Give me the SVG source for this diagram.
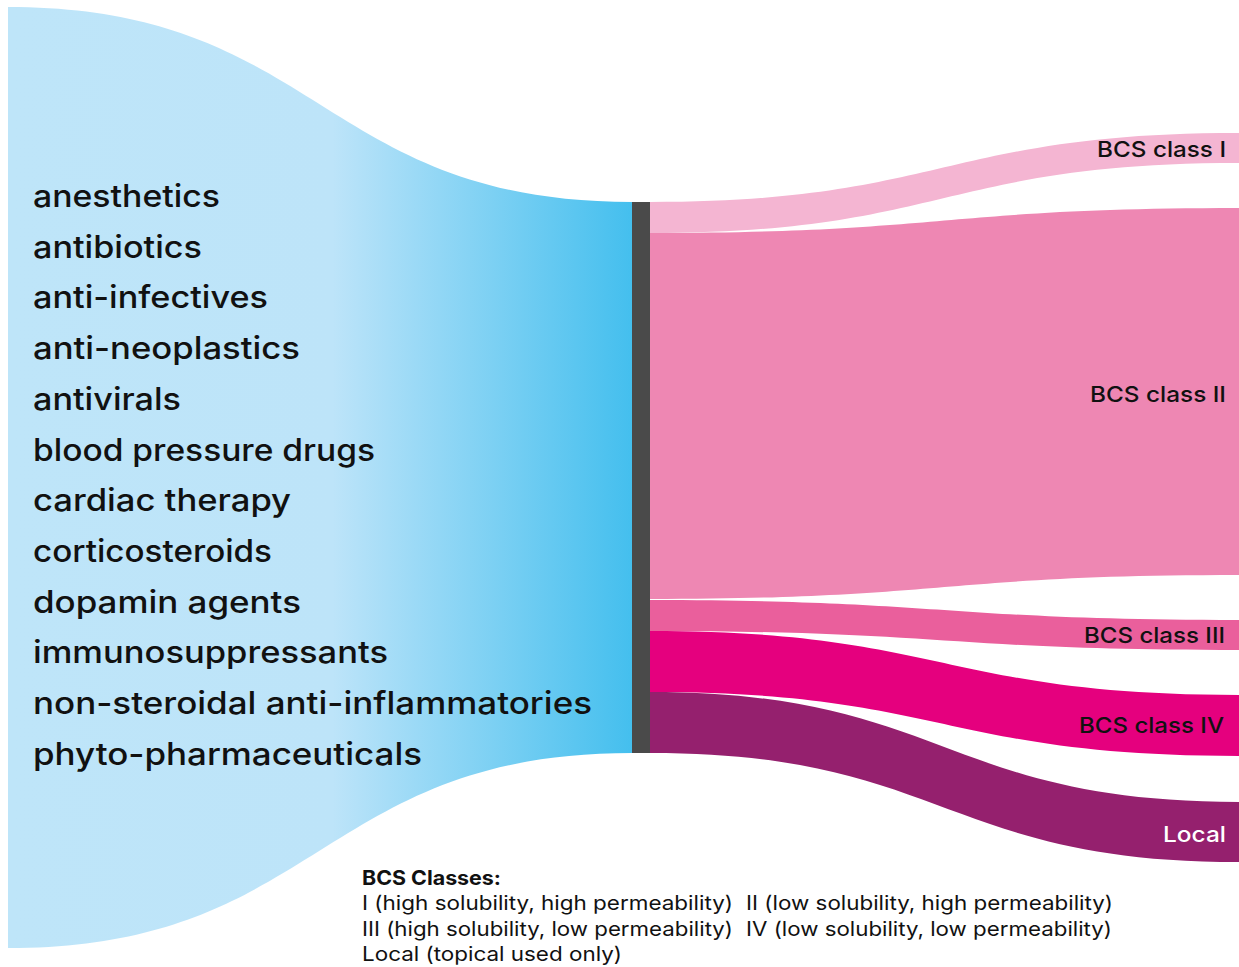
<svg xmlns="http://www.w3.org/2000/svg" width="1239" height="967" viewBox="0 0 1239 967">
<defs>
<linearGradient id="blueGrad" gradientUnits="userSpaceOnUse" x1="8" y1="0" x2="632" y2="0">
<stop offset="0" stop-color="#BEE5F9"/>
<stop offset="0.52" stop-color="#BDE4F9"/>
<stop offset="1" stop-color="#44BFEE"/>
</linearGradient>
<style>
.lbl{font-family:Inter,"Noto Sans","Liberation Sans",sans-serif;font-size:31px;font-weight:500;fill:#111;}
.rl{font-family:Inter,"Noto Sans","Liberation Sans",sans-serif;font-size:22px;font-weight:500;fill:#111;text-anchor:end;}
.lg{font-family:Inter,"Noto Sans","Liberation Sans",sans-serif;font-size:20px;fill:#111;}
.lgb{font-family:Inter,"Noto Sans","Liberation Sans",sans-serif;font-size:20px;font-weight:bold;fill:#111;}
</style>
</defs>
<rect width="1239" height="967" fill="#fff"/>
<g id="connectors">
<path d="M650,202 C944,202 944,133 1239,133 L1239,163 C944,163 944,233 650,233 Z" fill="#F4B5D2"/>
<path d="M650,233 C944,233 944,208 1239,208 L1239,575 C944,575 944,599 650,599 Z" fill="#EE87B3"/>
<path d="M650,600 C944,600 944,620 1239,620 L1239,650 C944,650 944,631 650,631 Z" fill="#EA5F9C"/>
<path d="M650,631 C944,631 944,695 1239,695 L1239,756 C944,756 944,692 650,692 Z" fill="#E5007E"/>
<path d="M650,692 C944,692 944,802 1239,802 L1239,862 C944,862 944,753 650,753 Z" fill="#95206E"/>
</g>
<g id="sources">
<path d="M8,7 C320,7 320,202 632,202 L632,753 C320,753 320,948 8,948 Z" fill="url(#blueGrad)"/>
<text class="lbl" x="33" y="207" textLength="187" lengthAdjust="spacingAndGlyphs">anesthetics</text>
<text class="lbl" x="33" y="258" textLength="169" lengthAdjust="spacingAndGlyphs">antibiotics</text>
<text class="lbl" x="33" y="308" textLength="235" lengthAdjust="spacingAndGlyphs">anti-infectives</text>
<text class="lbl" x="33" y="359" textLength="267" lengthAdjust="spacingAndGlyphs">anti-neoplastics</text>
<text class="lbl" x="33" y="410" textLength="148" lengthAdjust="spacingAndGlyphs">antivirals</text>
<text class="lbl" x="33" y="461" textLength="342" lengthAdjust="spacingAndGlyphs">blood pressure drugs</text>
<text class="lbl" x="33" y="511" textLength="258" lengthAdjust="spacingAndGlyphs">cardiac therapy</text>
<text class="lbl" x="33" y="562" textLength="239" lengthAdjust="spacingAndGlyphs">corticosteroids</text>
<text class="lbl" x="33" y="613" textLength="268" lengthAdjust="spacingAndGlyphs">dopamin agents</text>
<text class="lbl" x="33" y="663" textLength="355" lengthAdjust="spacingAndGlyphs">immunosuppressants</text>
<text class="lbl" x="33" y="714" textLength="559" lengthAdjust="spacingAndGlyphs">non-steroidal anti-inflammatories</text>
<text class="lbl" x="33" y="765" textLength="389" lengthAdjust="spacingAndGlyphs">phyto-pharmaceuticals</text>
</g>
<g id="hub">
<rect x="632" y="202" width="18" height="551" fill="#4A4A4A"/>
</g>
<g id="bcs1"><text class="rl" x="1226" y="157" textLength="129" lengthAdjust="spacingAndGlyphs">BCS class I</text></g>
<g id="bcs2"><text class="rl" x="1226" y="402" textLength="136" lengthAdjust="spacingAndGlyphs">BCS class II</text></g>
<g id="bcs3"><text class="rl" x="1225" y="643" textLength="141" lengthAdjust="spacingAndGlyphs">BCS class III</text></g>
<g id="bcs4"><text class="rl" x="1224" y="733" textLength="145" lengthAdjust="spacingAndGlyphs">BCS class IV</text></g>
<g id="local"><text class="rl" x="1226" y="842" textLength="63" lengthAdjust="spacingAndGlyphs" style="fill:#fff">Local</text></g>
<g id="legend">
<text class="lgb" x="362" y="885" textLength="139" lengthAdjust="spacingAndGlyphs">BCS Classes:</text>
<text class="lg" x="362" y="910" textLength="371" lengthAdjust="spacingAndGlyphs">I (high solubility, high permeability)</text>
<text class="lg" x="746" y="910" textLength="367" lengthAdjust="spacingAndGlyphs">II (low solubility, high permeability)</text>
<text class="lg" x="362" y="936" textLength="371" lengthAdjust="spacingAndGlyphs">III (high solubility, low permeability)</text>
<text class="lg" x="746" y="936" textLength="366" lengthAdjust="spacingAndGlyphs">IV (low solubility, low permeability)</text>
<text class="lg" x="362" y="961" textLength="260" lengthAdjust="spacingAndGlyphs">Local (topical used only)</text>
</g>
</svg>
